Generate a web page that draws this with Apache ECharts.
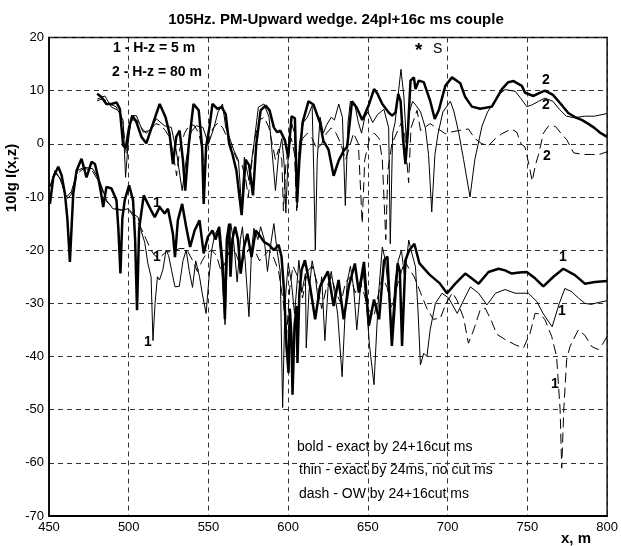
<!DOCTYPE html>
<html>
<head>
<meta charset="utf-8">
<title>105Hz. PM-Upward wedge</title>
<script src="https://cdn.jsdelivr.net/npm/echarts/dist/echarts.min.js"></script>
<style>
  html, body { margin: 0; padding: 0; background: #fff; }
  #main { width: 621px; height: 546px; }
</style>
</head>
<body>
<div id="main"></div>
<script>
// x axis (m) and y axis (dB) ticks
const xTicks = [450, 500, 550, 600, 650, 700, 750, 800]
const yTicks = [-70, -60, -50, -40, -30, -20, -10, 0, 10, 20]

// curve 2 : H-z = 80 m
const bold2 = [[480.2,9.4],[482.9,8.8],[486,7.5],[489.2,7.5],[492.3,7.8],[494.4,6.6],[496.5,-0.3],[498.1,-0.8],[500.2,3.1],[502.3,5.3],[504.8,4.1],[508,1.3],[511,0.1],[515.2,3.8],[519.4,7.5],[523.1,5],[525.6,1.9],[527.7,-3.8],[529.8,1.3],[531.9,2.5],[534,-3.1],[535.4,-8.8],[537.7,0],[540.6,7.5],[543.9,6.3],[546,-0.6],[547,-11.3],[548.5,-0.6],[550.6,3.1],[552.5,7.5],[555.6,6.6],[558.3,6.9],[560.8,5.6],[563,0],[565,-1.9],[567.5,-5],[570.8,-13.4],[573.3,-3],[575.5,-4],[577.9,-9.7],[580,0],[582.7,6.3],[585.8,7.2],[588.3,6.3],[591,3.1],[593,2.2],[595,2.5],[598,0.6],[600,-2.5],[602.1,5.2],[604.2,4.8],[605.6,-11],[607,-3],[609,4],[612.7,8],[615.8,7.4],[620,3.9],[622,0.6],[625.3,-1.1],[628.5,-6],[631.7,-3.1],[634.8,-1.3],[637,-0.5],[640,8],[643,6.8],[646.4,4.5],[648,5.5],[650.4,7.2],[653.8,10.3],[656,9.4],[659,7.5],[663,5.9],[665.2,5.3],[667.3,5.9],[669,9.4],[670.5,8],[672,1],[673.5,-3.8],[675,2],[676.7,11.9],[678.8,12.5],[679.8,10.3],[681.9,11.9],[685,11.6],[689,8.1],[691.9,4.7],[694.4,6.3],[698.5,10.9],[702.7,12.5],[707.9,11.4],[711,8.8],[715.2,7],[720.4,6.6],[727.7,7],[734,10.3],[738,11.6],[741.3,11.8],[746.5,10.9],[748.5,9.6],[753.8,9],[757,9.5],[761,10],[766,9.2],[771,7.5],[775.6,5.8],[780,5],[784,4.5],[788,3.8],[792,3],[796,2],[800,1.3]]

const thin2 = [[480.2,8.4],[485,9],[489.2,6.9],[493.3,6.3],[496.5,4.4],[498,-6.3],[499.6,0],[501.7,5.3],[504.8,5.3],[509,2.2],[513,2.5],[517.3,4.7],[522.5,3.4],[526.7,3.1],[529.8,-1.3],[533.5,-8.8],[536,-3.1],[539,2.2],[542.3,3.4],[546.5,3.1],[548.5,1.3],[550,0],[553.5,3.1],[556,6],[558.8,7.5],[560.8,3.1],[563,1.3],[566,-1.3],[568.8,-3.1],[570.8,-12],[572.5,-2.5],[575.4,-6.9],[578.5,0],[581.3,6.9],[584.8,7.5],[588,5],[590,-1.9],[592,-8.8],[594,-2],[596,1],[597.5,-4],[598.5,-13],[600,-2],[602,4],[604,2],[605.6,-12],[607,0],[609.5,4],[612,5],[615,7.2],[616,-5],[617,-20],[618.2,-3],[620,5],[622,2],[624,3.5],[627,5],[629,4.5],[631.7,7.5],[634,5],[635.8,-11.6],[637.5,4],[639,8],[642,7],[644,4],[646,2],[648,5],[650,6],[653,4],[656,5.5],[660,6.5],[663,3],[664,-18.8],[665.5,2],[667,4],[668.5,8],[670.7,14],[672.5,9],[674,1],[676,6],[678,8],[680.2,7.2],[683,6],[686,3],[688,-2],[690,-12.8],[692,-2],[694,2],[697,6],[701.7,8],[704,6],[707,2],[710,-3],[714,-10],[717,-3],[721.5,3.3],[725,6],[728.8,7.7],[733,9.5],[736,10.2],[742.3,9.9],[746,8.5],[749.6,7],[752.7,7.3],[757,8],[761,8.6],[766,8],[770,6.5],[774.4,5.2],[779.6,4.9],[785.8,5.2],[792,5.2],[800,5.7]]

const dash2 = [[480.2,8.1],[484,8.5],[488,7.5],[492,7],[495,5.5],[497,2],[498.5,-2],[500,2],[502,4.5],[505,4.5],[508,3],[511,2],[514,2.8],[517,3.8],[520,3.5],[523,2.5],[526,1],[528.5,-3],[530,-6],[532,-1],[535,2],[538,3.5],[541,3.5],[544,2],[546,-1],[547.5,-5],[549,-1],[551,1.5],[553,3],[556,4],[559,3],[562,1],[565,-1],[568,-3],[571,-4],[573,-6],[575,-10],[577,-4],[579,1],[582,4.5],[585,5],[588,3],[590,0],[592,-3],[594,-1],[596,-3],[597,-12.6],[598.5,-4],[600,-1],[602,1],[604,-2],[605.3,-12.6],[606.5,-2],[609,1],[612,2],[615,1],[618,-1],[621,0],[624,2],[627,3],[630,2],[633,0],[636,-3],[638,-1],[641,2],[644,0],[646.4,-15],[648,-3],[651,1],[654,2],[657,1],[659,-3],[661.2,-18],[662.5,-5],[665,0],[668,2],[671,4],[673,2],[675.5,-7.3],[677,3],[680.8,6.3],[683,2.5],[689,3.8],[694,2.8],[698.5,1.9],[702,2.2],[706.9,2.5],[713,2.8],[717,1],[721.5,0],[725.6,-0.3],[730,1],[734,1.9],[740,2.8],[743.3,2.2],[746,0],[748.5,-0.6],[751,-4],[753,-7],[755,-4],[757,-2],[760,2],[763,3.3],[767.5,3.3],[771,2],[774.6,0.8],[779,-1.7],[785,-2],[790,-2],[795,-2],[800,-1.5]]

// curve 1 : H-z = 5 m
const bold1 = [[450.6,-11.3],[452.7,-6.3],[455.8,-4.3],[457.9,-5.9],[460,-9.4],[461.5,-14],[463.1,-22.2],[465.2,-9.4],[467.3,-5],[470.4,-2.8],[473.5,-6.3],[476.7,-3.4],[478.8,-3.8],[480.8,-6.3],[482.5,-9],[484,-11.9],[486,-8.1],[489.2,-8.4],[492.3,-10.6],[493.5,-16],[494.8,-24.4],[496,-14],[497.5,-10.6],[500.2,-7.8],[502.7,-10.6],[504,-18],[505.2,-31.3],[506.5,-16],[509.4,-9.7],[512,-11.3],[514,-12.5],[516.3,-13.8],[519.4,-11.9],[522.5,-13.1],[524.6,-12.2],[527.7,-16.9],[529,-21.3],[530.8,-14.4],[533.5,-11.3],[536,-15.6],[538.5,-19.4],[541.3,-16.3],[544.4,-14.4],[547,-20.6],[549.6,-17.5],[552.5,-16.3],[554.5,-18],[556.7,-15.6],[559,-23],[560.3,-33],[561.5,-18],[563,-15],[563.8,-25],[565,-18],[566.7,-15.6],[568.5,-18],[570.2,-24.4],[572.3,-19.4],[574.4,-16.9],[577,-21.3],[579.6,-16.3],[582.7,-17.5],[585,-18.5],[588,-19],[591,-20],[594,-19],[595.8,-21.2],[597.5,-28],[598.9,-38],[600.2,-43.1],[601,-31],[602,-36],[602.7,-47.2],[604,-34],[605.3,-30.5],[605.8,-41.2],[607,-28],[608.4,-23.7],[610.5,-21.9],[613.7,-26.8],[616.9,-33],[620,-26.8],[624.9,-24],[628.5,-30.5],[631.6,-25.6],[634.8,-33],[638,-26.8],[641.8,-22.5],[644.3,-28],[647.5,-22.2],[650.6,-34.2],[653.8,-29.3],[657,-33],[660.1,-21.9],[662.2,-21.2],[665,-38],[668.6,-22.5],[670,-24],[671.4,-38],[673.5,-21.9],[675.9,-20],[679.1,-18.8],[682.3,-22.5],[688.6,-24.6],[694.9,-26.2],[699.6,-28.1],[704.8,-26.3],[711,-24.4],[715,-25.3],[719.4,-26.3],[725.6,-24.1],[731.9,-23.5],[736,-23.8],[740.2,-24.4],[745,-24.2],[749.6,-24.1],[754.8,-25.3],[760,-26.8],[766.3,-25],[772.5,-23.5],[779.8,-24.7],[786,-26.3],[792.3,-26],[800,-25.8]]

const thin1 = [[450.6,-8.1],[453.8,-5],[456.9,-6.6],[461,-10],[464,-9],[468,-5],[472.3,-4.4],[477.5,-4.7],[481.7,-6.9],[486,-10.6],[490,-12.2],[495.4,-12.5],[499.6,-12.2],[502.7,-13.1],[505.8,-13.8],[508,-16.6],[510,-18.5],[512,-22.5],[514,-25],[515.2,-37],[516.5,-30],[518,-25],[519.3,-25.6],[521.4,-23.7],[523.4,-20],[525,-21],[527,-24],[529,-26.9],[531.7,-26.8],[534,-22],[536,-20],[538,-24],[540,-27],[542,-22],[544.4,-25],[546,-28],[548.5,-31.9],[550.4,-25],[552,-20],[554,-17],[556,-16],[558,-22],[560.4,-34],[562,-20],[564,-15],[566,-19],[568,-26],[570,-18],[571.3,-15.6],[573,-22],[575.4,-32.5],[577,-20],[578.5,-15.9],[581,-18],[582.7,-15.6],[585,-18],[587,-24],[589,-19],[591,-15],[593,-20],[595,-24],[596.5,-49.6],[598,-30],[600,-22.5],[602,-26],[604,-32],[606.7,-21.9],[608.5,-28],[610.8,-24.4],[611.3,-38.4],[613,-28],[615,-22],[617,-25],[619,-30],[621,-25],[623,-37],[625,-27],[627,-24],[629,-28],[631,-32],[633.8,-43.8],[635.5,-33],[637,-26],[639,-23],[641,-27],[643,-35],[645,-28],[647,-24],[649,-30],[651,-38],[653.8,-45.3],[655.5,-35],[657,-27],[659,-19.4],[661,-22],[663,-28],[665,-35],[667,-26],[669,-22],[671,-20],[673,-25],[675.6,-18.1],[677,-20],[679.8,-23.1],[681.5,-32],[682.9,-41.6],[685,-39.4],[687,-40],[689,-35],[692.3,-30],[696.5,-28.1],[700.6,-29],[706,-31.9],[710,-29.4],[714.2,-26.9],[719.4,-28.1],[724.6,-30.3],[730,-28.1],[736,-27.4],[742.3,-28.1],[750.6,-28.1],[756,-29.7],[760,-32],[765.5,-34.4],[770,-30],[773.5,-27.2],[777.7,-27.8],[782,-29],[786,-30],[790,-30.2],[795,-29.8],[800,-29.5]]

const dash1 = [[450.6,-8],[454,-5.5],[457,-6.5],[461,-10.5],[464,-9.5],[468,-5.5],[472,-4.6],[477,-5],[482,-7.5],[486,-10.8],[490,-12],[495,-12.4],[500,-12.4],[504,-14],[508,-16],[511,-18],[514,-20],[516.3,-21],[519,-21.5],[523.5,-20.3],[527.6,-20.3],[531.7,-19.7],[536,-19.7],[540,-21.9],[543,-24],[546,-22],[549,-20.5],[552,-20],[555,-21],[558,-24],[561,-22],[564,-19.5],[567,-20.5],[570,-23],[573,-21],[576,-19.5],[579,-20],[582,-22],[585,-21],[588,-20],[591,-21.5],[594,-24],[597,-30],[599,-36],[601,-27],[603,-23],[606,-25],[609,-29],[612,-24],[615,-23],[618,-26],[621,-31],[624,-27],[627,-25],[630,-28],[633,-30],[636,-26],[639,-25],[642,-28],[645,-26],[647.5,-28.1],[650,-31],[653.8,-32.5],[656,-29],[659,-25],[662,-27],[665,-31],[668,-27],[671,-24],[673,-22],[675.6,-23.4],[679,-25],[683,-28],[687,-31],[691,-33],[695.4,-32.8],[699,-30],[703,-28],[706,-29.5],[710,-32.8],[713,-37.5],[716.3,-35],[720.4,-31.2],[723.5,-30.9],[727,-33],[730.8,-35.8],[736,-36.8],[742.3,-37.8],[747.5,-38.4],[751.7,-35.6],[754.8,-31.9],[758,-32],[761,-33.1],[765.2,-36.2],[768.3,-40],[770.5,-50],[771.5,-61],[772.8,-50],[774.6,-40.6],[776.7,-38.1],[781.9,-35],[786,-36],[790.2,-38.1],[794.4,-38.7],[797.5,-37.5],[800,-36.2]]

const FONT = '"Liberation Sans", Arial, sans-serif'

const chart = echarts.init(document.getElementById('main'), null, { renderer: 'canvas' })

// line style per kind of curve
const mk = (data, width, type) => ({
    type: 'line',
    data: data,
    showSymbol: false,
    symbol: 'none',
    silent: true,
    lineStyle: { color: '#000', width: width, type: type },
    z: width > 2 ? 4 : 3
})

// text helper for the annotations drawn on top
const txt = (x, y, s, bold, size, align) => ({
    type: 'text',
    x: x,
    y: y,
    z: 10,
    style: {
        text: s,
        fill: '#000',
        font: (bold ? 'bold ' : '') + size + 'px ' + FONT,
        align: align || 'left',
        verticalAlign: 'middle'
    }
})

const option = {
    backgroundColor: '#fff',
    animation: false,
    title: {
        text: '105Hz. PM-Upward wedge. 24pl+16c ms couple',
        left: 331,
        top: 7,
        textAlign: 'center',
        textStyle: { fontFamily: FONT, fontSize: 15, fontWeight: 'bold', color: '#000' }
    },
    grid: {
        left: 49,
        right: 12,
        top: 37.5,
        bottom: 30,
        show: true,
        borderColor: '#000',
        borderWidth: 1.5,
        backgroundColor: 'transparent'
    },
    xAxis: {
        type: 'value',
        min: xTicks[0],
        max: xTicks[xTicks.length - 1],
        interval: 50,
        axisLine: { show: true, onZero: false, lineStyle: { color: '#000', width: 2 } },
        axisTick: { show: false },
        axisLabel: { color: '#000', fontFamily: FONT, fontSize: 13, margin: 5 },
        splitLine: { show: true, lineStyle: { color: '#333', width: 1, type: [5, 4] } }
    },
    yAxis: {
        type: 'value',
        min: yTicks[0],
        max: yTicks[yTicks.length - 1],
        interval: 10,
        axisLine: { show: true, onZero: false, lineStyle: { color: '#000', width: 1.5 } },
        axisTick: { show: false },
        axisLabel: { color: '#000', fontFamily: FONT, fontSize: 13, margin: 5 },
        splitLine: { show: true, lineStyle: { color: '#333', width: 1, type: [5, 4] } }
    },
    series: [
        mk(dash1, 1, [10, 5]),
        mk(thin1, 1, 'solid'),
        mk(bold1, 2.5, 'solid'),
        mk(dash2, 1, [10, 5]),
        mk(thin2, 1, 'solid'),
        mk(bold2, 2.5, 'solid')
    ],
    graphic: [
        {
            type: 'text',
            x: 12,
            y: 178,
            rotation: Math.PI / 2,
            z: 10,
            style: {
                text: '10lg I(x,z)',
                fill: '#000',
                font: 'bold 15px ' + FONT,
                align: 'center',
                verticalAlign: 'middle'
            }
        },
        txt(576, 539, 'x, m', true, 15, 'center'),
        txt(113, 48, '1 - H-z = 5 m', true, 14),
        txt(112, 72, '2 - H-z = 80 m', true, 14),
        txt(415, 51, '*', true, 19),
        txt(433, 49, 'S', false, 14),
        txt(297, 447, 'bold - exact by 24+16cut ms', false, 14),
        txt(299, 470, 'thin - exact by 24ms, no cut ms', false, 14),
        txt(299, 494, 'dash - OW by 24+16cut ms', false, 14),
        // curve labels
        txt(546, 80, '2', true, 14, 'center'),
        txt(546, 105, '2', true, 14, 'center'),
        txt(547, 156, '2', true, 14, 'center'),
        txt(157, 203, '1', true, 14, 'center'),
        txt(157, 257, '1', true, 14, 'center'),
        txt(148, 342, '1', true, 14, 'center'),
        txt(563, 257, '1', true, 14, 'center'),
        txt(562, 311, '1', true, 14, 'center'),
        txt(555, 384, '1', true, 14, 'center')
    ]
}

chart.setOption(option)
</script>
</body>
</html>
